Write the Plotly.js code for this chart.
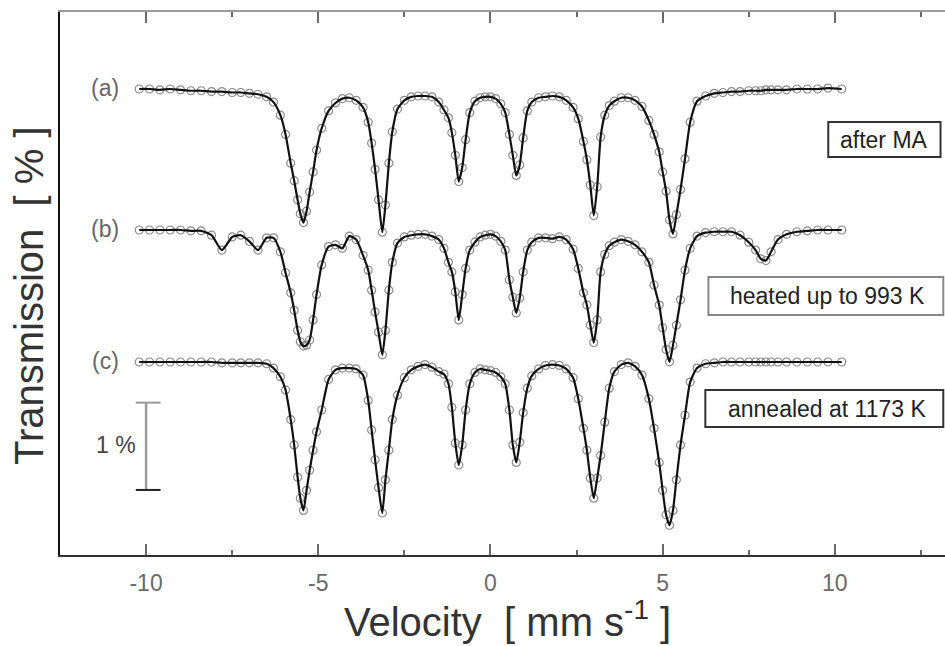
<!DOCTYPE html>
<html>
<head>
<meta charset="utf-8">
<script src="https://cdn.plot.ly/plotly-3.0.1.min.js"></script>
<style>html,body{margin:0;padding:0;background:#fff;}#chart{width:945px;height:646px;}</style>
</head>
<body>
<div id="chart"></div>
<script>
// Velocity channels (mm/s)
const velocity = [-10.2,-9.9,-9.6,-9.3,-9.0,-8.7,-8.4,-8.1,-7.8,-7.5,-7.25,-7.0,-6.75,-6.5,-6.3,-6.1,
  -5.95,-5.8,-5.7,-5.6,-5.52,-5.43,-5.34,-5.25,-5.15,-5.05,-4.9,-4.7,-4.5,-4.3,-4.1,-3.9,-3.7,
  -3.55,-3.45,-3.35,-3.25,-3.14,-3.05,-2.95,-2.85,-2.7,-2.5,-2.3,-2.1,-1.9,-1.7,-1.5,-1.35,
  -1.22,-1.12,-1.02,-0.92,-0.82,-0.72,-0.6,-0.45,-0.3,-0.15,0.0,0.15,0.3,0.43,
  0.55,0.65,0.75,0.85,0.95,1.07,1.2,1.4,1.6,1.8,2.0,2.2,2.4,2.55,
  2.7,2.8,2.9,3.0,3.1,3.2,3.32,3.45,3.6,3.8,4.0,4.2,4.4,4.6,
  4.75,4.9,5.0,5.1,5.2,5.3,5.4,5.52,5.65,5.8,6.0,6.25,6.5,6.75,7.0,7.25,7.5,7.7,7.85,8.0,8.15,8.35,8.6,8.9,9.2,9.5,9.8,10.2];

// Relative transmission change (%) for each spectrum
const transA = [0.00,0.00,-0.01,0.00,-0.01,-0.02,-0.02,-0.03,-0.03,-0.04,-0.04,-0.05,-0.06,-0.09,-0.15,-0.30,
  -0.52,-0.85,-1.05,-1.27,-1.43,-1.53,-1.40,-1.18,-0.95,-0.70,-0.45,-0.25,-0.16,-0.11,-0.10,-0.13,-0.21,
  -0.38,-0.62,-0.92,-1.27,-1.64,-1.33,-0.85,-0.49,-0.23,-0.13,-0.09,-0.08,-0.08,-0.09,-0.15,-0.24,
  -0.33,-0.50,-0.76,-1.06,-0.90,-0.58,-0.27,-0.14,-0.10,-0.09,-0.09,-0.11,-0.17,-0.27,
  -0.52,-0.76,-0.99,-0.87,-0.56,-0.25,-0.15,-0.10,-0.09,-0.08,-0.09,-0.13,-0.21,-0.34,
  -0.60,-0.81,-1.10,-1.45,-1.12,-0.55,-0.30,-0.19,-0.14,-0.10,-0.10,-0.13,-0.20,-0.36,
  -0.52,-0.72,-0.95,-1.17,-1.50,-1.66,-1.44,-1.15,-0.80,-0.38,-0.14,-0.08,-0.05,-0.04,-0.03,-0.03,-0.02,-0.02,-0.02,-0.01,-0.01,-0.01,-0.01,0.00,0.00,0.00,0.01,0.00];

const transB = [0.00,0.00,0.00,0.00,0.00,-0.01,-0.01,-0.06,-0.23,-0.08,-0.06,-0.13,-0.23,-0.09,-0.09,-0.25,
  -0.49,-0.72,-0.92,-1.15,-1.28,-1.33,-1.32,-1.26,-1.03,-0.74,-0.40,-0.19,-0.17,-0.21,-0.07,-0.11,-0.29,
  -0.46,-0.69,-0.94,-1.17,-1.43,-1.15,-0.69,-0.37,-0.15,-0.08,-0.06,-0.05,-0.05,-0.07,-0.11,-0.21,
  -0.37,-0.48,-0.71,-1.03,-0.74,-0.44,-0.23,-0.14,-0.08,-0.06,-0.05,-0.07,-0.13,-0.23,
  -0.57,-0.77,-0.95,-0.78,-0.48,-0.23,-0.14,-0.09,-0.09,-0.10,-0.08,-0.11,-0.22,-0.44,
  -0.72,-0.86,-1.09,-1.29,-1.03,-0.48,-0.28,-0.18,-0.14,-0.11,-0.13,-0.17,-0.25,-0.37,
  -0.63,-0.86,-1.12,-1.37,-1.51,-1.32,-1.09,-0.80,-0.46,-0.21,-0.07,-0.03,-0.02,-0.02,-0.02,-0.06,-0.14,-0.23,-0.33,-0.35,-0.25,-0.11,-0.05,-0.02,-0.01,0.00,0.00,0.00];

const transC = [0.00,0.00,0.00,0.00,0.00,0.00,0.00,0.00,-0.01,-0.01,-0.01,-0.01,-0.01,-0.02,-0.07,-0.17,
  -0.32,-0.66,-0.95,-1.32,-1.56,-1.70,-1.47,-1.24,-1.01,-0.80,-0.55,-0.20,-0.09,-0.07,-0.07,-0.08,-0.15,
  -0.44,-0.78,-1.12,-1.44,-1.73,-1.35,-1.01,-0.66,-0.38,-0.18,-0.09,-0.05,-0.03,-0.06,-0.11,-0.14,
  -0.25,-0.52,-0.93,-1.18,-0.95,-0.55,-0.25,-0.12,-0.08,-0.09,-0.10,-0.12,-0.17,-0.25,
  -0.55,-0.95,-1.15,-0.92,-0.58,-0.30,-0.16,-0.08,-0.04,-0.03,-0.04,-0.08,-0.18,-0.42,
  -0.76,-1.01,-1.33,-1.56,-1.33,-1.07,-0.69,-0.30,-0.11,-0.03,-0.01,-0.05,-0.15,-0.42,
  -0.76,-1.15,-1.47,-1.75,-1.87,-1.70,-1.35,-0.95,-0.61,-0.23,-0.07,-0.02,-0.01,0.00,0.00,0.00,0.00,0.00,0.00,0.00,0.00,0.00,0.00,0.00,0.00,0.00,0.00,0.00];

const spectrumTags = ['(a)', '(b)', '(c)'];
const sampleLabels = ['after MA', 'heated up to 993 K', 'annealed at 1173 K'];
const xTickVals = [-10, -5, 0, 5, 10];
const xTickText = ['-10', '-5', '0', '5', '10'];
const scaleBarPercent = 1;

const series = [transA, transB, transC];
const offsets = [5.338, 3.723, 2.211];
const FONT = 'Liberation Sans, Arial, Helvetica, sans-serif';

const traces = [];
series.forEach((s, i) => {
  const y = s.map(v => v + offsets[i]);
  traces.push({x: velocity, y: y, type: 'scatter', mode: 'markers', hoverinfo: 'skip', showlegend: false,
    marker: {symbol: 'circle-open', size: 8, color: '#8c8c8c', line: {width: 1.2, color: '#8c8c8c'}}});
  traces.push({x: velocity, y: y, type: 'scatter', mode: 'lines', hoverinfo: 'skip', showlegend: false,
    line: {color: '#111', width: 2.2, shape: 'spline', smoothing: 0.6}});
});
traces.push({x: [0], y: [-10], xaxis: 'x2', type: 'scatter', mode: 'markers', showlegend: false, hoverinfo: 'skip',
  marker: {size: 1, color: 'rgba(0,0,0,0)'}});

const xr = [-12.5, 13.2];
const baseX = {
  range: xr, showgrid: false, zeroline: false, ticks: 'inside', ticklen: 11, tickwidth: 2, tickcolor: '#6a6a6a',
  tickvals: xTickVals, ticktext: xTickText,
  minor: {dtick: 2.5, tick0: 0, ticks: 'inside', ticklen: 5, tickwidth: 2, tickcolor: '#6a6a6a', showgrid: false},
  showline: true, linewidth: 2
};

const annotations = [];
spectrumTags.forEach((t, i) => {
  annotations.push({x: -11.18, y: offsets[i] + 0.01, xref: 'x', yref: 'y', text: t, showarrow: false,
    font: {family: FONT, size: 23, color: '#666'}, xanchor: 'center', yanchor: 'middle'});
});
const boxes = [
  {x0: 9.81, x1: 13.07, y0: 4.559, y1: 4.960, tx: 11.44, color: '#333'},
  {x0: 6.33, x1: 13.15, y0: 2.749, y1: 3.184, tx: 9.79, color: '#8a8a8a'},
  {x0: 6.24, x1: 13.15, y0: 1.466, y1: 1.890, tx: 9.76, color: '#333'}
];
const shapes = [];
boxes.forEach((b, i) => {
  shapes.push({type: 'rect', xref: 'x', yref: 'y', x0: b.x0, x1: b.x1, y0: b.y0, y1: b.y1,
    line: {color: b.color, width: 2}, fillcolor: 'rgba(255,255,255,0)'});
  annotations.push({x: b.tx, y: (b.y0 + b.y1) / 2, xref: 'x', yref: 'y', text: sampleLabels[i], showarrow: false,
    font: {family: FONT, size: 23, color: '#222'}, xanchor: 'center', yanchor: 'middle'});
});
// scale bar (1 %)
const sbTop = 1.745, sbBot = sbTop - scaleBarPercent;
shapes.push({type: 'line', xref: 'x', yref: 'y', x0: -10, x1: -10, y0: sbBot, y1: sbTop, line: {color: '#999', width: 2.5}});
shapes.push({type: 'line', xref: 'x', yref: 'y', x0: -10.3, x1: -9.58, y0: sbTop, y1: sbTop, line: {color: '#999', width: 2}});
shapes.push({type: 'line', xref: 'x', yref: 'y', x0: -10.3, x1: -9.58, y0: sbBot, y1: sbBot, line: {color: '#222', width: 2}});
annotations.push({x: -10.86, y: (sbTop + sbBot) / 2 + 0.01, xref: 'x', yref: 'y', text: scaleBarPercent + '\u00a0%', showarrow: false,
  font: {family: FONT, size: 23, color: '#444'}, xanchor: 'center', yanchor: 'middle'});
// axis titles
annotations.push({xref: 'paper', yref: 'paper', x: 0, xshift: -31, y: 0.477, text: 'Transmission\u00a0\u00a0[\u00a0%\u00a0]',
  textangle: -90, showarrow: false, font: {family: FONT, size: 40, color: '#333'}, xanchor: 'center', yanchor: 'middle'});
annotations.push({xref: 'paper', yref: 'paper', x: 0.506, y: -0.118, text: 'Velocity\u00a0\u00a0[\u00a0mm\u00a0s<sup>-1</sup>\u00a0]',
  showarrow: false, font: {family: FONT, size: 40, color: '#333'}, xanchor: 'center', yanchor: 'middle'});

const layout = {
  width: 945, height: 646,
  margin: {l: 60, r: 0, t: 12, b: 91, pad: 0},
  paper_bgcolor: '#fff', plot_bgcolor: '#fff',
  showlegend: false,
  xaxis: Object.assign({}, baseX, {linecolor: '#333', showticklabels: true, ticklabelstandoff: 6,
    tickfont: {family: FONT, size: 23, color: '#6a6a6a'}}),
  xaxis2: Object.assign({}, baseX, {overlaying: 'x', side: 'top', linecolor: '#9a9a9a', showticklabels: false}),
  yaxis: {range: [0, 6.22], showgrid: false, zeroline: false, showticklabels: false, ticks: '',
    showline: true, linecolor: '#111', linewidth: 2},
  shapes: shapes,
  annotations: annotations
};

Plotly.newPlot('chart', traces, layout, {staticPlot: true, displayModeBar: false});
</script>
</body>
</html>
